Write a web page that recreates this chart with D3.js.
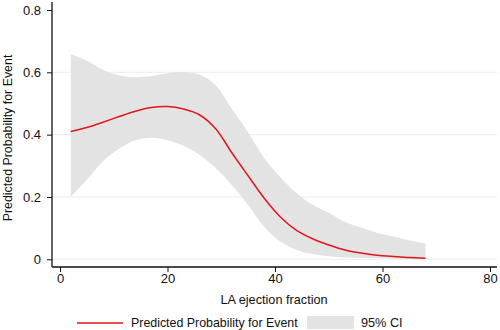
<!DOCTYPE html>
<html>
<head>
<meta charset="utf-8">
<script src="https://cdn.jsdelivr.net/npm/d3@7"></script>
<style>
  body { margin: 0; background: #fff; }
  svg text { font-family: "Liberation Sans", Arial, sans-serif; fill: #111; }
</style>
</head>
<body>
<svg id="chart" width="500" height="330"></svg>
<script>
// LA ejection fraction grid and model predictions
const efValues = [2, 5, 8, 11, 14, 17, 20, 23, 26, 29, 32, 35, 38, 41, 44, 47, 50, 53, 56, 59, 62, 65, 68];
const predicted = [0.410, 0.423, 0.440, 0.458, 0.475, 0.487, 0.490, 0.482, 0.463, 0.418, 0.341, 0.268, 0.196, 0.136, 0.093, 0.066, 0.046, 0.030, 0.020, 0.013, 0.009, 0.006, 0.003];
const ciUpper = [0.659, 0.637, 0.608, 0.590, 0.584, 0.588, 0.597, 0.601, 0.592, 0.558, 0.482, 0.407, 0.325, 0.263, 0.212, 0.175, 0.149, 0.120, 0.102, 0.085, 0.073, 0.061, 0.050];
const ciLower = [0.200, 0.255, 0.315, 0.355, 0.382, 0.390, 0.382, 0.364, 0.335, 0.292, 0.238, 0.174, 0.104, 0.057, 0.030, 0.017, 0.010, 0.006, 0.004, 0.003, 0.002, 0.001, 0.001];

const xTicks = [0, 20, 40, 60, 80];
const yTicks = [0, 0.2, 0.4, 0.6, 0.8];
const gridTicks = [0, 0.2, 0.4, 0.6];

const svg = d3.select("#chart");

const x = d3.scaleLinear().domain([0, 80]).range([60, 490]);
const y = d3.scaleLinear().domain([0, 0.8]).range([259.3, 10]);
const axisX = 52, axisY = 267;

const rows = efValues.map((v, i) => ({ ef: v, p: predicted[i], hi: ciUpper[i], lo: ciLower[i] }));

// gridlines
svg.append("g").selectAll("line")
  .data(gridTicks)
  .join("line")
  .attr("x1", axisX).attr("x2", 497)
  .attr("y1", d => y(d)).attr("y2", d => y(d))
  .attr("stroke", "#e6eff1").attr("stroke-width", 1);

// confidence band
svg.append("path")
  .datum(rows)
  .attr("fill", "#e3e3e3")
  .attr("d", d3.area()
    .curve(d3.curveCatmullRom)
    .x(d => x(d.ef))
    .y0(d => y(d.lo))
    .y1(d => y(d.hi)));

// predicted probability
svg.append("path")
  .datum(rows)
  .attr("fill", "none")
  .attr("stroke", "#e0161d")
  .attr("stroke-width", 1.5)
  .attr("d", d3.line()
    .curve(d3.curveCatmullRom)
    .x(d => x(d.ef))
    .y(d => y(d.p)));

// y axis
const yAxis = svg.append("g")
  .attr("transform", `translate(${axisX},0)`)
  .call(d3.axisLeft(y).tickValues(yTicks).tickFormat(d => d === 0 ? "0" : d3.format(".1f")(d)).tickSize(5).tickPadding(6));
yAxis.select(".domain").attr("d", `M0,${y(0.8) - 8}V${axisY}`).attr("stroke", "#111").attr("stroke-width", 1.3);
yAxis.selectAll(".tick line").attr("stroke", "#111");
yAxis.selectAll("text").style("font-size", "13px");

// x axis
const xAxis = svg.append("g")
  .attr("transform", `translate(0,${axisY})`)
  .call(d3.axisBottom(x).tickValues(xTicks).tickSize(5).tickPadding(2));
xAxis.select(".domain").attr("d", `M${axisX},0H497`).attr("stroke", "#111").attr("stroke-width", 1.3);
xAxis.selectAll(".tick line").attr("stroke", "#111");
xAxis.selectAll("text").style("font-size", "13px");

// axis titles
svg.append("text")
  .attr("x", 274).attr("y", 304)
  .attr("text-anchor", "middle")
  .style("font-size", "12.7px")
  .text("LA ejection fraction");

svg.append("text")
  .attr("transform", "translate(12,138) rotate(-90)")
  .attr("text-anchor", "middle")
  .style("font-size", "12.4px")
  .text("Predicted Probability for Event");

// legend
const legend = svg.append("g");
legend.append("line")
  .attr("x1", 77).attr("x2", 123).attr("y1", 323).attr("y2", 323)
  .attr("stroke", "#e0161d").attr("stroke-width", 1.5);
legend.append("text")
  .attr("x", 131).attr("y", 327)
  .style("font-size", "12.4px")
  .text("Predicted Probability for Event");
legend.append("rect")
  .attr("x", 307).attr("y", 316).attr("width", 47).attr("height", 13)
  .attr("fill", "#e3e3e3");
legend.append("text")
  .attr("x", 361).attr("y", 327)
  .style("font-size", "12.7px")
  .text("95% CI");
</script>
</body>
</html>
